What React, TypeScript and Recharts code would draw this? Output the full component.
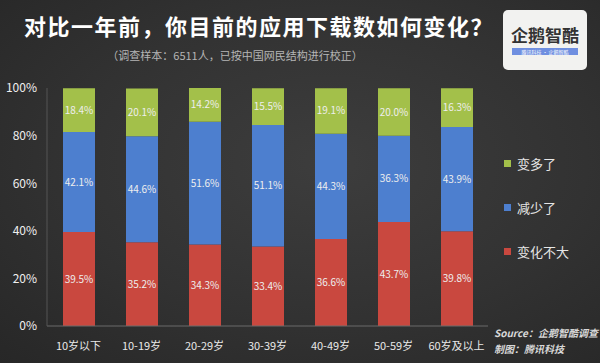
import { Bar, BarChart, LabelList, XAxis, YAxis } from "recharts";

const ageGroups = ["10岁以下", "10-19岁", "20-29岁", "30-39岁", "40-49岁", "50-59岁", "60岁及以上"];
const noChange = [39.5, 35.2, 34.3, 33.4, 36.6, 43.7, 39.8];
const fewer = [42.1, 44.6, 51.6, 51.1, 44.3, 36.3, 43.9];
const more = [18.4, 20.1, 14.2, 15.5, 19.1, 20.0, 16.3];
const yTicks = [0, 20, 40, 60, 80, 100];

const data = ageGroups.map((name, i) => ({
  name,
  noChange: noChange[i],
  fewer: fewer[i],
  more: more[i],
}));

const FONT = '"Noto Sans CJK SC", "Noto Sans", sans-serif';

const legendItems = [
  { label: "变多了", color: "#a3c04a" },
  { label: "减少了", color: "#4d7fcf" },
  { label: "变化不大", color: "#c9483f" },
];

const LegendBox = () => (
  <div style={{ position: "absolute", left: 504, top: 154, fontFamily: FONT }}>
    {legendItems.map((it, i) => (
      <div
        key={it.label}
        style={{
          display: "flex",
          alignItems: "center",
          height: 18,
          marginBottom: i < legendItems.length - 1 ? 26 : 0,
          color: "#e6e6e6",
          fontSize: 13,
        }}
      >
        <span style={{ width: 7, height: 7, background: it.color, marginRight: 6 }} />
        {it.label}
      </div>
    ))}
  </div>
);

const segLabel = { fill: "#eeeeee", fontSize: 10, fontFamily: FONT };
const fmt = (v: number) => `${v.toFixed(1)}%`;

export default function App() {
  return (
    <div
      style={{
        position: "absolute",
        left: 0,
        top: 0,
        width: 600,
        height: 363,
        overflow: "hidden",
        background: "radial-gradient(ellipse at 55% 45%, #3d3d3d 0%, #323232 55%, #272727 100%)",
        fontFamily: FONT,
      }}
    >
      <div
        style={{
          position: "absolute",
          left: 24,
          top: 9,
          color: "#ffffff",
          fontSize: 22,
          fontWeight: 700,
          letterSpacing: 1.5,
          whiteSpace: "nowrap",
        }}
      >
        对比一年前，你目前的应用下载数如何变化？
      </div>
      <div
        style={{
          position: "absolute",
          left: 0,
          width: 470,
          top: 47,
          textAlign: "center",
          color: "#b5b5b5",
          fontSize: 11,
          whiteSpace: "nowrap",
        }}
      >
        （调查样本：6511人，已按中国网民结构进行校正）
      </div>
      <div
        style={{
          position: "absolute",
          left: 503,
          top: 10,
          width: 84,
          height: 60,
          background: "#f2f2f0",
          borderRadius: 5,
          display: "flex",
          flexDirection: "column",
          alignItems: "center",
          justifyContent: "center",
        }}
      >
        <div style={{ color: "#333", fontSize: 17, fontWeight: 700, lineHeight: "20px" }}>企鹅智酷</div>
        <div
          style={{
            marginTop: 3,
            width: 66,
            height: 7,
            background: "#6f8fe0",
            color: "#fff",
            fontSize: 5,
            lineHeight: "7px",
            textAlign: "center",
          }}
        >
          腾讯科技 · 企鹅智酷
        </div>
      </div>

      <div style={{ position: "absolute", left: 0, top: 0 }}>
        <BarChart
          width={600}
          height={363}
          data={data}
          margin={{ top: 88, right: 112, bottom: 7, left: 0 }}
          barSize={32}
        >
          <XAxis
            dataKey="name"
            height={30}
            interval={0}
            stroke="#6a6a6a"
            tickLine={false}
            tick={{ fill: "#e8e8e8", fontSize: 11, fontFamily: FONT }}
            tickMargin={10}
          />
          <YAxis
            width={47}
            domain={[0, 100]}
            ticks={yTicks}
            tickFormatter={(v: number) => `${v}%`}
            stroke="#555555"
            tickLine={false}
            tickMargin={4}
            tick={{ fill: "#f0f0f0", fontSize: 12, fontFamily: FONT }}
          />
          <Bar dataKey="noChange" stackId="a" fill="#c9483f" isAnimationActive={false}>
            <LabelList dataKey="noChange" position="center" formatter={fmt} style={segLabel} />
          </Bar>
          <Bar dataKey="fewer" stackId="a" fill="#4d7fcf" isAnimationActive={false}>
            <LabelList dataKey="fewer" position="center" formatter={fmt} style={segLabel} />
          </Bar>
          <Bar dataKey="more" stackId="a" fill="#a3c04a" isAnimationActive={false}>
            <LabelList dataKey="more" position="center" formatter={fmt} style={segLabel} />
          </Bar>
        </BarChart>
      </div>

      <LegendBox />

      <div
        style={{
          position: "absolute",
          left: 494,
          top: 325,
          color: "#d8d8d8",
          fontSize: 10,
          fontStyle: "italic",
          fontWeight: 700,
          lineHeight: "16px",
          whiteSpace: "nowrap",
        }}
      >
        <div>Source：企鹅智酷调查</div>
        <div>制图：腾讯科技</div>
      </div>
    </div>
  );
}
